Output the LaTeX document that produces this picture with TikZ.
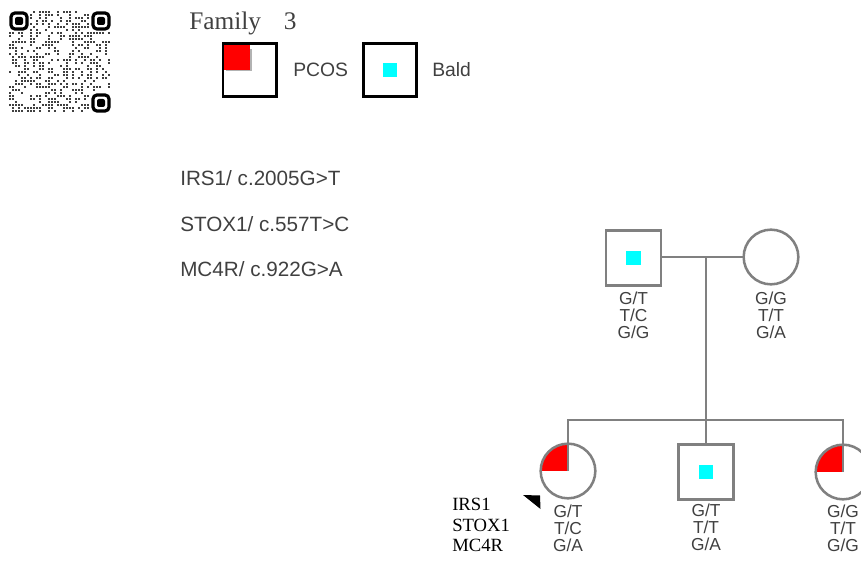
\documentclass[tikz,border=0pt]{standalone}
\usepackage{fontspec}
\setmainfont{Liberation Serif}
\setsansfont{Liberation Sans}
\usetikzlibrary{positioning}

\definecolor{pedgray}{HTML}{808080}
\definecolor{pcosred}{HTML}{FF0000}
\definecolor{baldcyan}{HTML}{00FFFF}
\definecolor{txtgray}{HTML}{404040}

\begin{document}
\begin{tikzpicture}[
  x=0.75pt, y=0.75pt,
  pedline/.style={draw=pedgray, line width=1.9pt},
  male/.style={rectangle, draw=pedgray, line width=1.9pt, minimum size=41pt,
    inner sep=0pt, outer sep=0pt},
  female/.style={circle, draw=pedgray, line width=1.9pt, minimum size=41pt,
    inner sep=0pt, outer sep=0pt},
  legbox/.style={rectangle, draw=black, line width=2pt, minimum size=40pt,
    inner sep=0pt, outer sep=0pt},
  pcos/.style={path picture={\fill[pcosred] (path picture bounding box.center)
    rectangle (path picture bounding box.north west);}},
  bald/.style={rectangle, fill=baldcyan, minimum size=11pt, inner sep=0pt},
  geno/.style={font=\sffamily\fontsize{13}{12.6}\selectfont, text=txtgray,
    align=center, inner sep=0pt},
  snp/.style={font=\sffamily\fontsize{15.5}{18}\selectfont, text=txtgray,
    anchor=west, inner sep=0pt},
  gene/.style={font=\fontsize{14}{15.5}\selectfont, align=left, inner sep=0pt}
]
  \useasboundingbox (0,0) rectangle (861,-563);

  % QR code (top left)
  \pgfmathsetseed{11}
  \foreach \i in {0,...,33}{
    \foreach \j in {0,...,33}{
      \pgfmathtruncatemacro{\infinder}{((\i<7)&&(\j<7))||((\i>26)&&(\j<7))||((\i>26)&&(\j>26))}
      \pgfmathtruncatemacro{\qrdot}{rnd<0.42}
      \ifnum\infinder=0 \ifnum\qrdot=1
        \fill[black!75] (9+3*\i,-11-3*\j) rectangle ++(2.2,-2.2);
      \fi\fi
    }
  }
  \foreach \fx/\fy in {10/12, 92/12, 92/94}{
    \draw[line width=2.4pt, rounded corners=3pt] (\fx+1,-\fy-1) rectangle ++(16,-16);
    \fill[rounded corners=1.5pt] (\fx+5,-\fy-5) rectangle ++(8,-8);
  }

  % Title and legend
  \node[font=\fontsize{19}{22}\selectfont, text=txtgray, anchor=base west, inner sep=0pt]
    (title) at (189,-30) {Family\hspace{0.9em}3};
  \fill[black!30] (226,-49) rectangle (251.5,-71.5);
  \node[legbox, pcos] (legpcos) at (249.5,-70) {};
  \node[snp, font=\sffamily\fontsize{14.5}{16}\selectfont] (legpcostxt) at (293,-70) {PCOS};
  \node[legbox] (legbald) at (390,-70) {};
  \node[bald] at (legbald.center) {};
  \node[snp, font=\sffamily\fontsize{14.5}{16}\selectfont] (legbaldtxt) at (432,-70) {Bald};

  % Variants
  \node[snp] (irs) at (180,-178) {IRS1/ c.2005G>T};
  \node[snp] (stox) at (180,-224) {STOX1/ c.557T>C};
  \node[snp] (mcr) at (180,-269) {MC4R/ c.922G>A};

  % Parents
  \node[male] (father) at (633.5,-258) {};
  \node[bald] at (father.center) {};
  \node[female] (mother) at (771,-257) {};
  \coordinate (mid) at (706,-257);
  \coordinate (sib) at (706,-420);
  \draw[pedline] (father.east |- mid) -- (mother.west);
  \draw[pedline] (mid) -- (sib);

  % Children
  \node[female, pcos] (dau1) at (568,-471) {};
  \node[male] (son) at (706,-472) {};
  \node[bald] at (son.center) {};
  \node[female, pcos] (dau2) at (843,-472) {};
  \draw[pedline] (dau1.center) -- (dau1 |- sib) -- (dau2 |- sib) -- (dau2.center);
  \draw[pedline] (sib) -- (son.north);

  % Proband arrow
  \fill[black] (523,-495) -- (540,-495.5) -- (540.5,-509) -- cycle;

  % Genotypes
  \node[geno, below=5pt of father] (gfather) {G/T\\T/C\\G/G};
  \node[geno, below=5.5pt of mother] (gmother) {G/G\\T/T\\G/A};
  \node[geno, below=5pt of dau1] (gdau1) {G/T\\T/C\\G/A};
  \node[geno, below=3.5pt of son] (gson) {G/T\\T/T\\G/A};
  \node[geno, below=4pt of dau2] (gdau2) {G/G\\T/T\\G/G};
  \node[gene, anchor=north west] (genes) at (452,-498) {IRS1\\STOX1\\MC4R};
\end{tikzpicture}
\end{document}
